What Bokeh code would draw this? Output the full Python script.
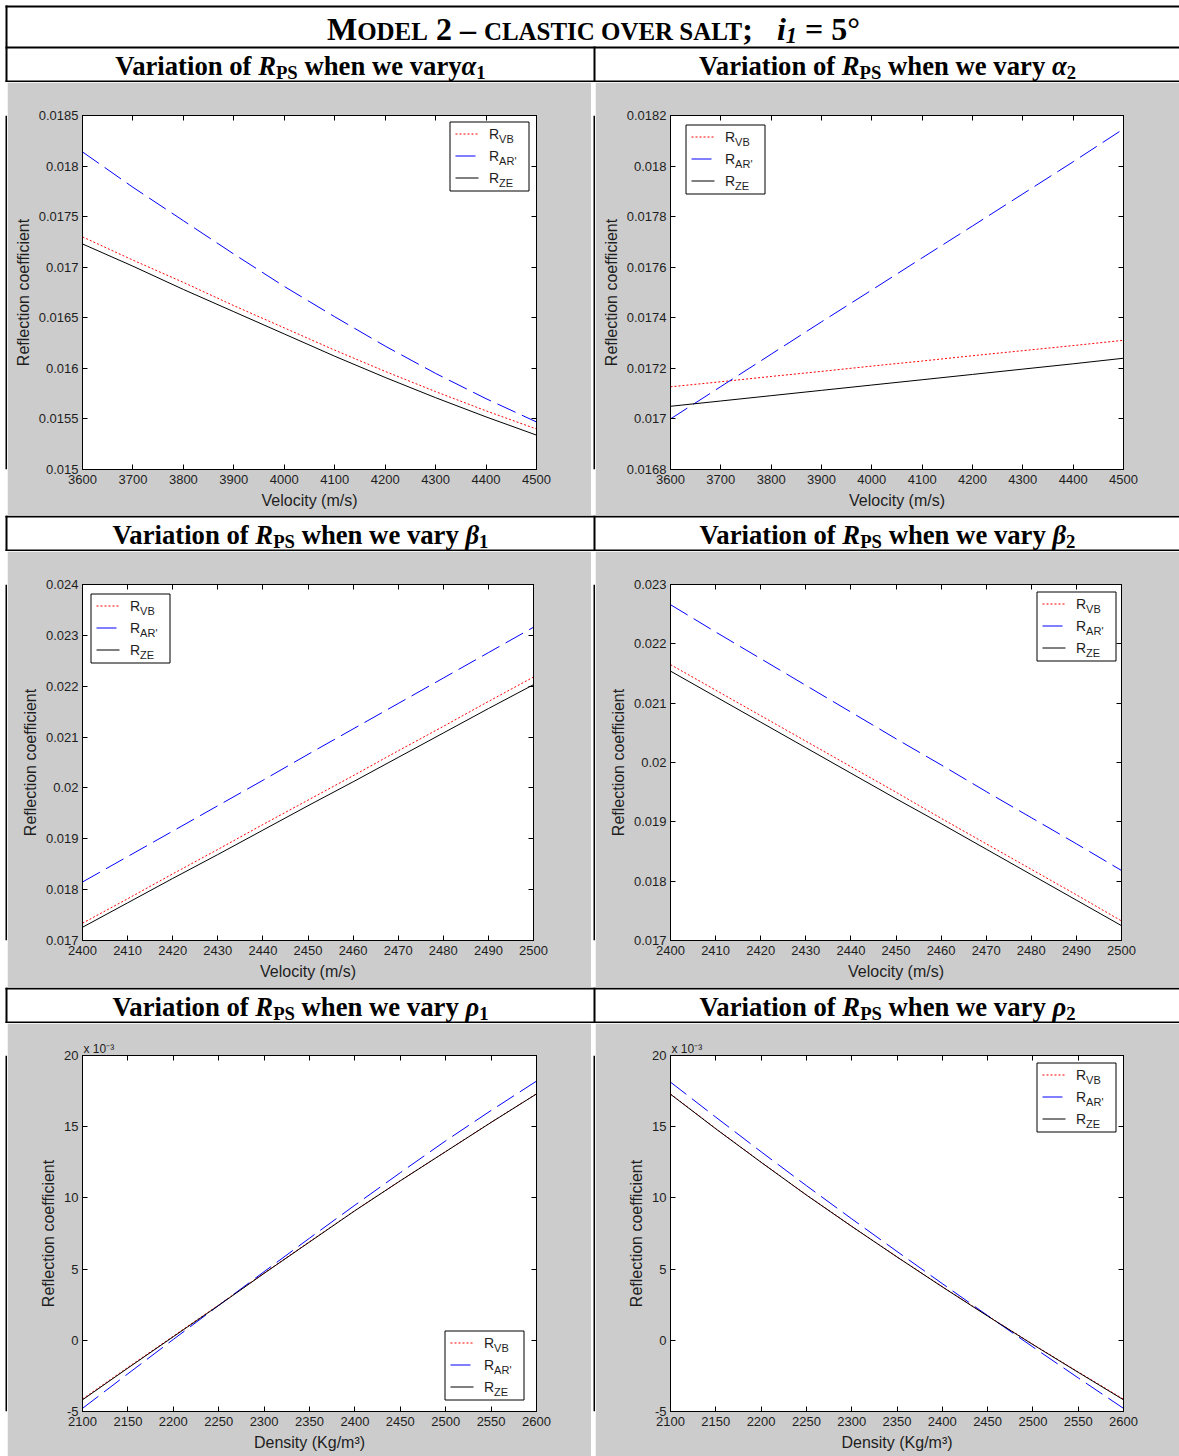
import glob
import os
import subprocess

from bokeh.core.properties import value
from bokeh.embed import file_html
from bokeh.layouts import column, row
from bokeh.models import FixedTicker, LinearAxis, Range1d
from bokeh.plotting import figure
from bokeh.resources import INLINE

# ---------------------------------------------------------------- data
# P-to-S reflection coefficient for three approximations:
#   VB  -> red dotted, AR' -> blue dashed, ZE (Zoeppritz) -> black solid

# varying alpha1 / alpha2 (P velocity, m/s)
alpha_vel = [3600, 3700, 3800, 3900, 4000, 4100, 4200, 4300, 4400, 4500]
alpha1_vb = [0.01730, 0.01707, 0.01685, 0.01662, 0.01640, 0.01618, 0.01597, 0.01577, 0.01558, 0.01540]
alpha1_ar = [0.01814, 0.01779, 0.01746, 0.01713, 0.01681, 0.01651, 0.01622, 0.01595, 0.01570, 0.01547]
alpha1_ze = [0.01723, 0.01701, 0.01678, 0.01656, 0.01634, 0.01612, 0.01591, 0.01571, 0.01552, 0.01534]

alpha2_vb = [0.017127, 0.017147, 0.017168, 0.017188, 0.017209, 0.017229, 0.017250, 0.017270, 0.017290, 0.017311]
alpha2_ar = [0.017000, 0.017128, 0.017256, 0.017384, 0.017510, 0.017637, 0.017763, 0.017890, 0.018017, 0.018147]
alpha2_ze = [0.017050, 0.017071, 0.017092, 0.017113, 0.017134, 0.017155, 0.017176, 0.017197, 0.017218, 0.017240]

# varying beta1 / beta2 (S velocity, m/s)
beta_vel = [2400, 2410, 2420, 2430, 2440, 2450, 2460, 2470, 2480, 2490, 2500]
beta1_vb = [0.01734, 0.01782, 0.01831, 0.01879, 0.01928, 0.01976, 0.02024, 0.02073, 0.02121, 0.02170, 0.02218]
beta1_ar = [0.01815, 0.01865, 0.01915, 0.01965, 0.02015, 0.02066, 0.02116, 0.02166, 0.02216, 0.02266, 0.02316]
beta1_ze = [0.01726, 0.01774, 0.01822, 0.01869, 0.01917, 0.01965, 0.02012, 0.02060, 0.02108, 0.02156, 0.02203]

beta2_vb = [0.02165, 0.02122, 0.02079, 0.02036, 0.01993, 0.01950, 0.01906, 0.01863, 0.01820, 0.01777, 0.01733]
beta2_ar = [0.02266, 0.02220, 0.02175, 0.02130, 0.02085, 0.02040, 0.01996, 0.01951, 0.01907, 0.01863, 0.01818]
beta2_ze = [0.02154, 0.02111, 0.02068, 0.02025, 0.01982, 0.01939, 0.01897, 0.01854, 0.01811, 0.01768, 0.01725]

# varying rho1 / rho2 (density, kg/m^3); coefficients in units of 1e-3
density = [2100, 2150, 2200, 2250, 2300, 2350, 2400, 2450, 2500, 2550, 2600]
rho1_vb = [-4.12, -1.90, 0.29, 2.48, 4.72, 6.92, 9.11, 11.21, 13.26, 15.31, 17.31]
rho1_ar = [-4.78, -2.35, 0.06, 2.45, 4.82, 7.17, 9.49, 11.77, 14.01, 16.14, 18.20]
rho1_ze = [-4.18, -1.95, 0.25, 2.45, 4.70, 6.90, 9.10, 11.20, 13.25, 15.30, 17.30]

rho2_vb = [17.30, 14.87, 12.51, 10.21, 8.01, 5.86, 3.77, 1.72, -0.28, -2.22, -4.13]
rho2_ar = [18.13, 15.67, 13.24, 10.86, 8.53, 6.24, 3.98, 1.74, -0.47, -2.64, -4.78]
rho2_ze = [17.28, 14.85, 12.50, 10.20, 8.00, 5.85, 3.75, 1.70, -0.30, -2.25, -4.18]

# ticks and their labels
alpha_ticks = [3600, 3700, 3800, 3900, 4000, 4100, 4200, 4300, 4400, 4500]
alpha_tick_labels = ["3600", "3700", "3800", "3900", "4000", "4100", "4200", "4300", "4400", "4500"]
beta_ticks = [2400, 2410, 2420, 2430, 2440, 2450, 2460, 2470, 2480, 2490, 2500]
beta_tick_labels = ["2400", "2410", "2420", "2430", "2440", "2450", "2460", "2470", "2480", "2490", "2500"]
density_ticks = [2100, 2150, 2200, 2250, 2300, 2350, 2400, 2450, 2500, 2550, 2600]
density_tick_labels = ["2100", "2150", "2200", "2250", "2300", "2350", "2400", "2450", "2500", "2550", "2600"]

alpha1_yticks = [0.015, 0.0155, 0.016, 0.0165, 0.017, 0.0175, 0.018, 0.0185]
alpha1_ytick_labels = ["0.015", "0.0155", "0.016", "0.0165", "0.017", "0.0175", "0.018", "0.0185"]
alpha2_yticks = [0.0168, 0.017, 0.0172, 0.0174, 0.0176, 0.0178, 0.018, 0.0182]
alpha2_ytick_labels = ["0.0168", "0.017", "0.0172", "0.0174", "0.0176", "0.0178", "0.018", "0.0182"]
beta1_yticks = [0.017, 0.018, 0.019, 0.02, 0.021, 0.022, 0.023, 0.024]
beta1_ytick_labels = ["0.017", "0.018", "0.019", "0.02", "0.021", "0.022", "0.023", "0.024"]
beta2_yticks = [0.017, 0.018, 0.019, 0.02, 0.021, 0.022, 0.023]
beta2_ytick_labels = ["0.017", "0.018", "0.019", "0.02", "0.021", "0.022", "0.023"]
rho_yticks = [-5, 0, 5, 10, 15, 20]
rho_ytick_labels = ["-5", "0", "5", "10", "15", "20"]

legend_subscripts = ["VB", "AR'", "ZE"]

# ---------------------------------------------------------------- styling
SERIF = "Liberation Serif"
SANS = "Liberation Sans"
PANEL_GRAY = "#cccccc"
TEXT_DARK = "#1e1e1e"
SERIES_STYLE = [("#ff0000", "2 2"), ("#0000ff", "20 7"), ("#000000", "solid")]
MID = 0.34   # em offset from the alphabetic baseline up to the text middle


# ---------------------------------------------------------------- text metrics
try:
    from PIL import ImageFont
except Exception:
    ImageFont = None


def locate_font(pattern, filename):
    found = None
    try:
        out = subprocess.run(["fc-match", "-f", "%{file}", pattern],
                             capture_output=True, text=True, timeout=10).stdout.strip()
        if out and os.path.exists(out):
            found = out
            if os.path.basename(out) == filename:
                return out
    except Exception:
        pass
    for root in ("/usr/share/fonts", "/usr/local/share/fonts", os.path.expanduser("~/.fonts")):
        hits = glob.glob(os.path.join(root, "**", filename), recursive=True)
        if hits:
            return hits[0]
    return found


FONT_PATHS = {
    "bold": locate_font("Liberation Serif:bold", "LiberationSerif-Bold.ttf"),
    "bold italic": locate_font("Liberation Serif:bold:italic", "LiberationSerif-BoldItalic.ttf"),
    "sans": locate_font("Liberation Sans", "LiberationSans-Regular.ttf"),
}
_loaded = {}


def text_width(s, size, style):
    if style not in _loaded:
        f = None
        path = FONT_PATHS.get(style)
        if ImageFont is not None and path:
            try:
                f = ImageFont.truetype(path, 100)
            except Exception:
                f = None
        _loaded[style] = f
    f = _loaded[style]
    if f is None:
        return 0.52 * size * len(s)
    return f.getlength(s) * size / 100.0


def pieces_width(pieces, size):
    return sum(text_width(t, size * k, st) for t, k, st, _ in pieces)


def draw_pieces(p, pieces, cx, base_y, size):
    x = cx - pieces_width(pieces, size) / 2.0
    for t, k, st, dy in pieces:
        fs = size * k
        w = text_width(t, fs, st)
        lead = len(t) - len(t.lstrip(" "))
        s = t.strip(" ")
        if s:
            xs = x + (text_width(" " * lead, fs, st) if lead else 0.0)
            p.text(x=[xs], y=[base_y + dy - MID * fs], text=[s], text_font=value(SERIF),
                   text_font_style=st, text_font_size=f"{fs:.2f}px",
                   text_baseline="middle", text_align="left", text_color="black")
        x += w


def header_pieces(sym, idx, gap=" "):
    return [("Variation of ", 1.0, "bold", 0), ("R", 1.0, "bold italic", 0),
            ("PS", 0.7, "bold", 3), (" when we vary" + gap, 1.0, "bold", 0),
            (sym, 1.0, "bold italic", 0), (idx, 0.7, "bold", 3)]


TITLE_PIECES = [("M", 1.0, "bold", 0), ("ODEL", 0.78, "bold", 0), (" 2 – ", 1.0, "bold", 0),
                ("CLASTIC OVER SALT", 0.78, "bold", 0), (";", 1.0, "bold", 0),
                ("   i", 1.0, "bold italic", 0), ("1", 0.7, "bold italic", 4),
                (" = 5°", 1.0, "bold", 0)]

HEAD_SIZE = 377.0 / pieces_width(header_pieces("α", "2"), 1.0)
TITLE_SIZE = 533.0 / pieces_width(TITLE_PIECES, 1.0)

W = 1179
LEFT_X0, MID_X0 = 5, 593          # outer border and column divider
COL_CENTERS = [(7 + 593) / 2.0, (595 + W) / 2.0]


# ---------------------------------------------------------------- canvases
def canvas(w, h):
    p = figure(width=w, height=h, x_range=Range1d(0, w), y_range=Range1d(h, 0),
               output_backend="svg", toolbar_location=None, tools="",
               x_axis_location=None, y_axis_location=None, min_border=0)
    p.min_border_left = p.min_border_right = p.min_border_top = p.min_border_bottom = 0
    p.grid.grid_line_color = None
    p.outline_line_color = None
    p.background_fill_color = "white"
    p.border_fill_color = "white"
    return p


def rules(p, hlines, vlines):
    # table rules, 2 px thick
    for y0, x0, x1 in hlines:
        p.quad(left=[x0], right=[x1], top=[y0], bottom=[y0 + 2], fill_color="black", line_color=None)
    for x0, y0, y1 in vlines:
        p.quad(left=[x0], right=[x0 + 2], top=[y0], bottom=[y1], fill_color="black", line_color=None)


# title row + first header row
top = canvas(W, 82)
rules(top, [(5, LEFT_X0, W), (46, LEFT_X0, W), (80, LEFT_X0, W)],
      [(LEFT_X0, 5, 82), (MID_X0, 46, 82)])
draw_pieces(top, TITLE_PIECES, 593, 39, TITLE_SIZE)
draw_pieces(top, header_pieces("α", "1", gap=""), COL_CENTERS[0], 75, HEAD_SIZE)
draw_pieces(top, header_pieces("α", "2"), COL_CENTERS[1], 75, HEAD_SIZE)


def header_band(sym):
    p = canvas(W, 36)
    rules(p, [(0, LEFT_X0, W), (34, LEFT_X0, W)], [(LEFT_X0, 0, 36), (MID_X0, 0, 36)])
    draw_pieces(p, header_pieces(sym, "1"), COL_CENTERS[0], 29, HEAD_SIZE)
    draw_pieces(p, header_pieces(sym, "2"), COL_CENTERS[1], 29, HEAD_SIZE)
    return p


def strip(w, h, black_from):
    p = canvas(w, h)
    p.quad(left=[black_from], right=[w], top=[0], bottom=[h], fill_color="black", line_color=None)
    return p


def style_axis(ax, size="13px"):
    ax.major_tick_in = 5
    ax.major_tick_out = 0
    ax.minor_tick_line_color = None
    ax.axis_line_color = "black"
    ax.major_tick_line_color = "black"
    ax.major_label_text_font = SANS
    ax.major_label_text_font_size = size
    ax.major_label_text_color = TEXT_DARK
    ax.major_label_standoff = 4
    ax.axis_label_text_font = SANS
    ax.axis_label_text_font_style = "normal"
    ax.axis_label_text_font_size = "16px"
    ax.axis_label_text_color = TEXT_DARK
    ax.axis_label_standoff = 4


def panel(fig_h, left, top_b, fw, fh, x, series, x_range, y_range,
          xticks, xlabels, yticks, ylabels, xlabel, legend_at, scale_note=None):
    w = 584
    p = figure(width=w, height=fig_h, x_range=Range1d(*x_range), y_range=Range1d(*y_range),
               output_backend="svg", toolbar_location=None, tools="",
               min_border_left=left, min_border_top=top_b,
               min_border_right=w - left - fw, min_border_bottom=fig_h - top_b - fh)
    p.background_fill_color = "white"
    p.border_fill_color = PANEL_GRAY
    p.outline_line_color = "black"
    p.grid.grid_line_color = None

    xa, ya = p.xaxis[0], p.yaxis[0]
    xa.ticker = FixedTicker(ticks=xticks)
    xa.major_label_overrides = dict(zip(xticks, xlabels))
    ya.ticker = FixedTicker(ticks=yticks)
    ya.major_label_overrides = dict(zip(yticks, ylabels))
    xa.axis_label = xlabel
    ya.axis_label = "Reflection coefficient"
    style_axis(xa)
    style_axis(ya)
    xa.major_label_standoff = 5
    xa.axis_label_standoff = 5

    # box ticks on the opposite sides
    for loc, ticks in (("above", xticks), ("right", yticks)):
        ax = LinearAxis(ticker=FixedTicker(ticks=ticks))
        style_axis(ax, size="1px")
        ax.major_label_standoff = 0
        ax.major_label_text_color = None
        p.add_layout(ax, loc)

    if scale_note:
        p.title.text = scale_note
        p.title.align = "left"
        p.title.offset = 1
        p.title.standoff = 0
        p.title.text_font = SANS
        p.title.text_font_style = "normal"
        p.title.text_font_size = "12px"
        p.title.text_color = TEXT_DARK

    for ys, (color, dash) in zip(series, SERIES_STYLE):
        p.line(x, ys, line_color=color, line_dash=dash, line_width=1)

    # legend drawn in frame pixel coordinates
    p.extra_x_ranges = {"px": Range1d(0, fw)}
    p.extra_y_ranges = {"px": Range1d(fh, 0)}
    lx, ly = legend_at
    p.quad(left=[lx + 0.5], right=[lx + 79.5], top=[ly + 0.5], bottom=[ly + 69.5],
           fill_color="white", line_color="black", line_width=1,
           x_range_name="px", y_range_name="px")
    rows_y = [ly + 12.5, ly + 34.5, ly + 56.5]
    for ry, (color, dash) in zip(rows_y, SERIES_STYLE):
        p.segment(x0=[lx + 6], y0=[ry], x1=[lx + 29], y1=[ry], line_color=color,
                  line_dash=dash, line_width=1, x_range_name="px", y_range_name="px")
    r_w = text_width("R", 14, "sans")
    p.text(x=[lx + 39.5] * 3, y=[ry + 4.5 - MID * 14 for ry in rows_y], text=["R"] * 3,
           text_font=value(SANS), text_font_size="14px", text_color=TEXT_DARK,
           text_baseline="middle", text_align="left",
           x_range_name="px", y_range_name="px")
    p.text(x=[lx + 39.5 + r_w] * 3, y=[ry + 9 - MID * 11 for ry in rows_y], text=legend_subscripts,
           text_font=value(SANS), text_font_size="11px", text_color=TEXT_DARK,
           text_baseline="middle", text_align="left",
           x_range_name="px", y_range_name="px")
    return p


vel_label = "Velocity (m/s)"
dens_label = "Density (Kg/m³)"
rho_scale = "x 10⁻³"

p1 = panel(433, 75, 33, 454, 354, alpha_vel, (alpha1_vb, alpha1_ar, alpha1_ze),
           (3600, 4500), (0.015, 0.0185), alpha_ticks, alpha_tick_labels,
           alpha1_yticks, alpha1_ytick_labels, vel_label, (367, 6))
p2 = panel(433, 75, 33, 453, 354, alpha_vel, (alpha2_vb, alpha2_ar, alpha2_ze),
           (3600, 4500), (0.0168, 0.0182), alpha_ticks, alpha_tick_labels,
           alpha2_yticks, alpha2_ytick_labels, vel_label, (15, 9))
p3 = panel(436, 75, 33, 451, 356, beta_vel, (beta1_vb, beta1_ar, beta1_ze),
           (2400, 2500), (0.017, 0.024), beta_ticks, beta_tick_labels,
           beta1_yticks, beta1_ytick_labels, vel_label, (8, 9))
p4 = panel(436, 75, 33, 451, 356, beta_vel, (beta2_vb, beta2_ar, beta2_ze),
           (2400, 2500), (0.017, 0.023), beta_ticks, beta_tick_labels,
           beta2_yticks, beta2_ytick_labels, vel_label, (366, 7))
p5 = panel(433, 75, 32, 454, 356, density, (rho1_vb, rho1_ar, rho1_ze),
           (2100, 2600), (-5, 20), density_ticks, density_tick_labels,
           rho_yticks, rho_ytick_labels, dens_label, (362, 275), scale_note=rho_scale)
p6 = panel(433, 75, 32, 453, 356, density, (rho2_vb, rho2_ar, rho2_ze),
           (2100, 2600), (-5, 20), density_ticks, density_tick_labels,
           rho_yticks, rho_ytick_labels, dens_label, (366, 7), scale_note=rho_scale)


def panel_row(h, left_p, right_p):
    return row(strip(7, h, 5), left_p, strip(4, h, 2), right_p, spacing=0)


layout = column(
    top,
    panel_row(433, p1, p2),
    header_band("β"),
    panel_row(436, p3, p4),
    header_band("ρ"),
    panel_row(433, p5, p6),
    spacing=0,
)

open("out.html", "w").write(file_html(layout, INLINE))
